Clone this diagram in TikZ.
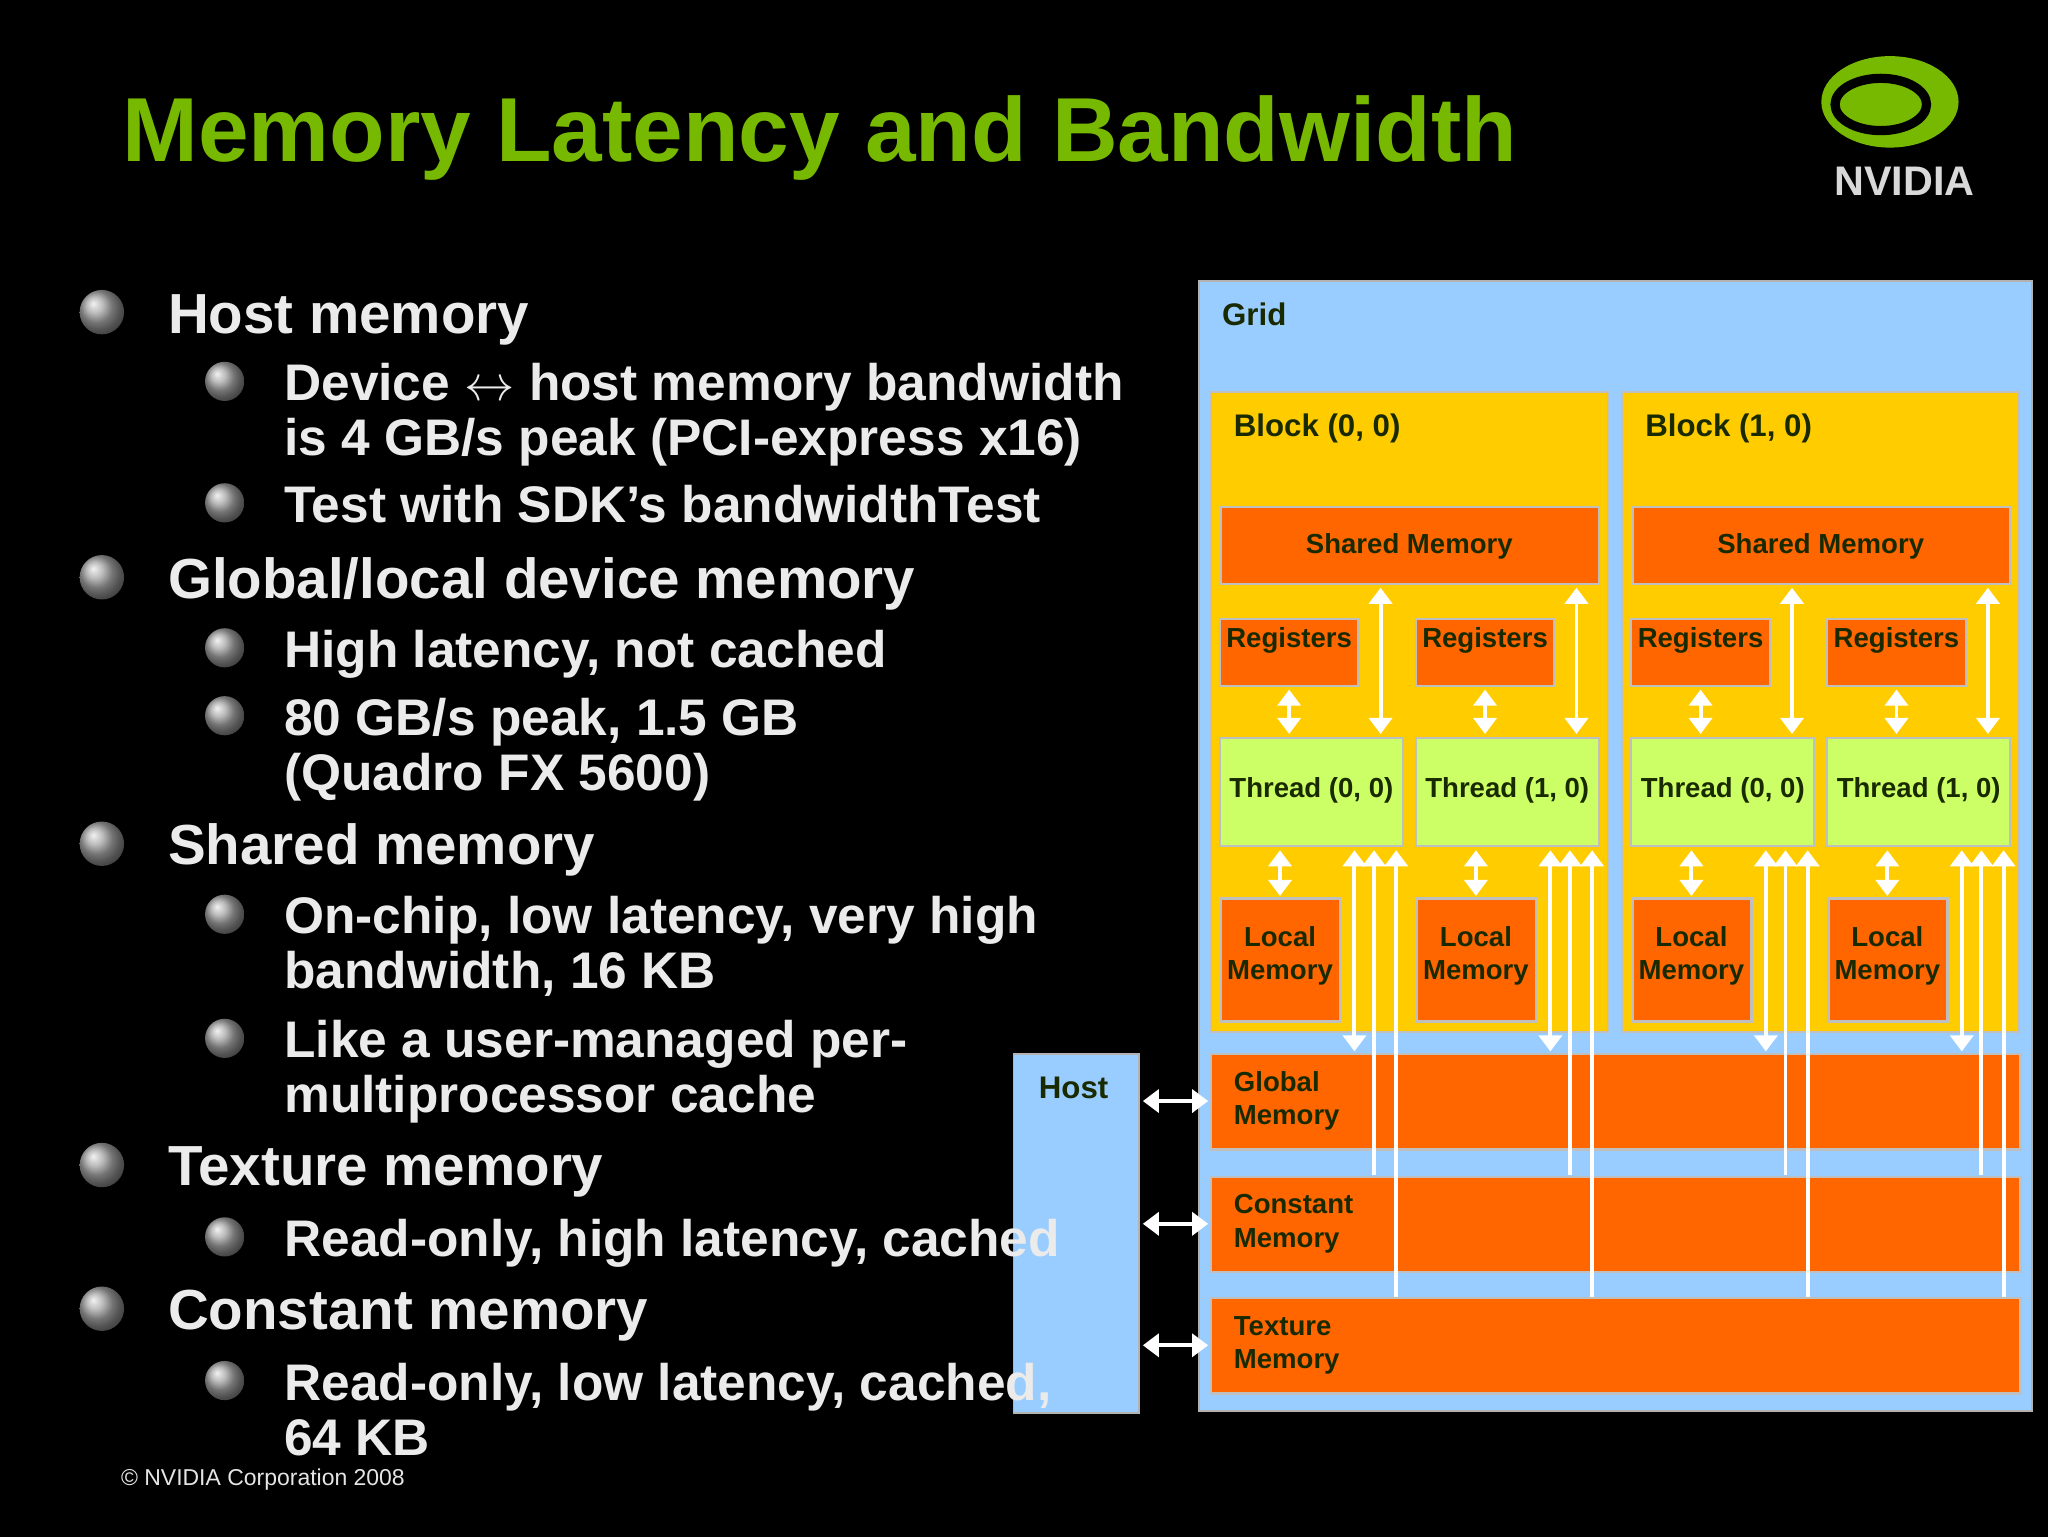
\documentclass[tikz,border=0pt]{standalone}
\usepackage{fontspec}
\setmainfont{Liberation Sans}
\usetikzlibrary{arrows.meta,shapes.geometric}
\definecolor{ngreen}{HTML}{76B900}
\definecolor{gridblue}{HTML}{99CCFF}
\definecolor{blky}{HTML}{FFCC00}
\definecolor{org}{HTML}{FF6600}
\definecolor{thr}{HTML}{CCFF66}
\definecolor{dtext}{HTML}{1A2A00}
\begin{document}
\begin{tikzpicture}[x=0.01cm,y=-0.01cm,
  l1/.style={anchor=base west,text=white!92!black,font=\bfseries\fontsize{12.3}{14}\selectfont,inner sep=0},
  l2/.style={anchor=base west,text=white!92!black,font=\bfseries\fontsize{11.2}{13}\selectfont,inner sep=0},
  b1/.style={ball color=gray!70,circle,minimum size=0.34cm,inner sep=0},
  b2/.style={ball color=gray!70,circle,minimum size=0.3cm,inner sep=0},
  box/.style={draw=gray!50,line width=0.5pt},
  dl/.style={text=dtext,font=\bfseries\fontsize{6}{7.2}\selectfont,inner sep=0,align=left},
  wa/.style={draw=white,line width=0.85pt,>={Triangle[length=3.5pt,width=5pt]}}]
\fill[black] (0,0) rectangle (1568,1177);
\useasboundingbox (0,0) rectangle (1568,1177);
% title
\node[anchor=base west,inner sep=0,text=ngreen,font=\bfseries\fontsize{19.8}{24}\selectfont] (title) at (93,124) {Memory Latency and Bandwidth};
% logo
\node[ellipse,fill=ngreen,minimum width=1.05cm,minimum height=0.7cm] (logo) at (1447,78) {};
\node[ellipse,draw=black,line width=2pt,minimum width=0.7cm,minimum height=0.4cm] (logoeye) at (1440,80) {};
\node[anchor=base,inner sep=0,text=white!85!black,font=\bfseries\fontsize{9}{10}\selectfont] (nv) at (1458,150) {NVIDIA};
% bullets
\foreach \y/\t [count=\i] in {255/{Host memory},458/{Global/local device memory},662/{Shared memory},908/{Texture memory},1018/{Constant memory}}
 {\node[b1] (ba\i) at (78,\y-16) {}; \node[l1] (ta\i) at (128,\y) {\t};}
\foreach \y [count=\i] in {307,400,511,563,715,810,962,1072}
 {\node[b2] (bb\i) at (172,\y-15) {};}
\node[l2] (s1) at (217,307) {Device $\leftrightarrow$ host memory bandwidth};
\node[l2] (s1b) at (217,349) {is 4 GB/s peak (PCI-express x16)};
\node[l2] (s2) at (217,400) {Test with SDK’s bandwidthTest};
\node[l2] (s3) at (217,511) {High latency, not cached};
\node[l2] (s4) at (217,563) {80 GB/s peak, 1.5 GB};
\node[l2] (s4b) at (217,605) {(Quadro FX 5600)};
\node[l2] (s5) at (217,715) {On-chip, low latency, very high};
\node[l2] (s5b) at (217,757) {bandwidth, 16 KB};
\node[l2] (s6) at (217,810) {Like a user-managed per-};
\node[l2] (s6b) at (217,852) {multiprocessor cache};
\node[l2] (s8b) at (217,1114) {64 KB};
\node[anchor=base west,inner sep=0,text=white!90!black,font=\fontsize{5}{6}\selectfont] (copy) at (92,1137) {© NVIDIA Corporation 2008};
% grid and host
\fill[gridblue,draw=gray!60] (918,215) rectangle (1556,1080);
\node[dl,anchor=base west,font=\bfseries\fontsize{6.8}{8}\selectfont] (grid) at (935,249) {Grid};
\fill[gridblue,draw=gray!60] (776,807) rectangle (872,1082);
\node[dl,anchor=base,font=\bfseries\fontsize{6.8}{8}\selectfont] (host) at (822,841) {Host};
% memories
\foreach \y/\a/\b [count=\i] in {807/Global/gm,901/Constant/cm,994/Texture/tm}
 {\fill[org,box] (927,\y) rectangle (1547,\y+73);
  \node[dl,anchor=north west] (\b) at (944,\y+13) {\a\\Memory};
  \coordinate (h\i) at (875,\y+36); \coordinate (g\i) at (925,\y+36);
  \draw[wa,<->] (h\i) -- (g\i);}
% blocks
\foreach \bx/\bn in {0/0,315/1}{
\begin{scope}[xshift=\bx*0.01cm]
\fill[blky,box] (927,300) rectangle (1231,790);
\node[dl,anchor=base west,font=\bfseries\fontsize{6.8}{8}\selectfont] (blk\bn) at (944,334) {Block (\bn, 0)};
\fill[org,box] (935,388) rectangle (1224,447);
\node[dl] (sm\bn) at (1079,418) {Shared Memory};
\foreach \dx/\t in {0/0,150/1}{
 \begin{scope}[xshift=\dx*0.01cm]
 \fill[org,box] (934,474) rectangle (1040,525);
 \node[dl,anchor=north] (r\bn\t) at (987,480) {Registers};
 \fill[thr,box] (934,565) rectangle (1074,648);
 \node[dl] (th\bn\t) at (1004,605) {Thread (\t, 0)};
 \fill[org,box] (935,688) rectangle (1026,782);
 \node[dl,align=center] (lm\bn\t) at (980,732) {Local\\Memory};
 \draw[wa,<->] (987,528) -- (987,562);
 \draw[wa,<->] (1057,450) -- (1057,562);
 \draw[wa,<->] (980,651) -- (980,686);
 \draw[wa,<->] (1037,651) -- (1037,805);
 \draw[wa,->] (1052,900) -- (1052,651);
 \draw[wa,->] (1069,993) -- (1069,651);
 \end{scope}}
\end{scope}}
\node[l2] (s7) at (217,962) {Read-only, high latency, cached};
\node[l2] (s8) at (217,1072) {Read-only, low latency, cached,};
\end{tikzpicture}
\end{document}
